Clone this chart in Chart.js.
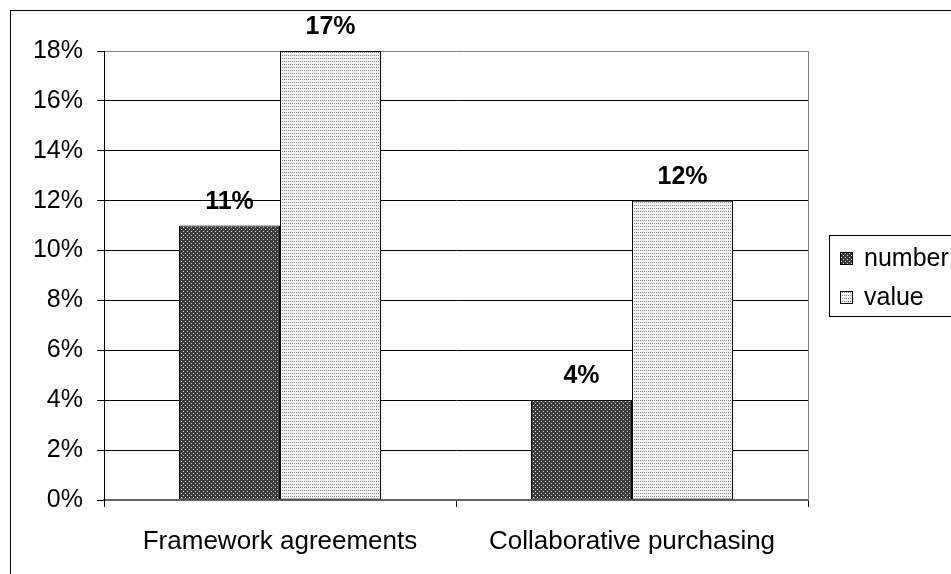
<!DOCTYPE html>
<html>
<head>
<meta charset="utf-8">
<script src="https://cdn.jsdelivr.net/npm/chart.js@4/dist/chart.umd.min.js"></script>
<style>
body { margin: 0; background: #fff; }
canvas { display: block; }
</style>
</head>
<body>
<canvas id="chart" width="951" height="574"></canvas>
<script>
// data (percent)
const categories = ['Framework agreements', 'Collaborative purchasing'];
const seriesNames = ['number', 'value'];
const numberShare = [11, 4];
const valueShare = [18, 12]; // first bar is drawn up to the 18% line in the picture
// printed labels above the bars
const numberLabels = ['11%', '4%'];
const valueLabels = ['17%', '12%'];
const yMin = 0;
const yMax = 18;
const yStep = 2;

const FONT = '"Liberation Sans", Arial, sans-serif';

const canvas = document.getElementById('chart');
const ctx = canvas.getContext('2d');

// little tiles to mimic the excel fill patterns
function makePattern(size, bg, dot, dots) {
  const tile = document.createElement('canvas');
  tile.width = size[0];
  tile.height = size[1];
  const t = tile.getContext('2d');
  t.fillStyle = bg;
  t.fillRect(0, 0, size[0], size[1]);
  t.fillStyle = dot;
  dots.forEach(d => t.fillRect(d[0], d[1], 1, 1));
  return ctx.createPattern(tile, 'repeat');
}

const darkFill = makePattern([4, 4], '#3a3a3a', '#e0e0e0', [[1, 1], [3, 3]]);
const lightFill = makePattern([2, 3], '#f2f2f2', '#8a8a8a', [[0, 1]]);

// outer frame + gray right edge of plot area
const framePlugin = {
  id: 'frame',
  beforeDraw(chart) {
    const c = chart.ctx;
    c.save();
    c.fillStyle = '#fff';
    c.fillRect(0, 0, chart.width, chart.height);
    c.strokeStyle = '#000';
    c.lineWidth = 1;
    c.strokeRect(10.5, 10.5, 1200, 1200);
    c.restore();
  },
  beforeDatasetsDraw(chart) {
    const a = chart.chartArea;
    const c = chart.ctx;
    c.save();
    c.strokeStyle = '#808080';
    c.lineWidth = 1;
    c.beginPath();
    c.moveTo(Math.round(a.right) + 0.5, a.top);
    c.lineTo(Math.round(a.right) + 0.5, a.bottom);
    c.stroke();
    c.restore();
  }
};

// bold value labels above every bar
const labelPlugin = {
  id: 'valueLabels',
  afterDatasetsDraw(chart) {
    const c = chart.ctx;
    c.save();
    c.font = 'bold 25px ' + FONT;
    c.fillStyle = '#000';
    c.textAlign = 'center';
    c.textBaseline = 'alphabetic';
    chart.data.datasets.forEach((ds, i) => {
      chart.getDatasetMeta(i).data.forEach((bar, j) => {
        c.fillText(ds.printed[j], bar.x, bar.y - 17);
      });
    });
    c.restore();
  }
};

// boxed legend on the right
const legendPlugin = {
  id: 'boxLegend',
  afterDraw(chart) {
    const c = chart.ctx;
    c.save();
    c.strokeStyle = '#000';
    c.lineWidth = 1;
    c.strokeRect(829.5, 235.5, 200, 81);
    c.font = '25px ' + FONT;
    c.textBaseline = 'middle';
    c.textAlign = 'left';
    chart.data.datasets.forEach((ds, i) => {
      const y = 252 + i * 39;
      c.fillStyle = ds.backgroundColor;
      c.fillRect(840, y, 12, 12);
      c.strokeStyle = '#000';
      c.strokeRect(840.5, y + 0.5, 12, 12);
      c.fillStyle = '#000';
      c.fillText(ds.label, 864, y + 7);
    });
    c.restore();
  }
};

new Chart(ctx, {
  type: 'bar',
  data: {
    labels: categories,
    datasets: [
      {
        label: seriesNames[0],
        data: numberShare,
        printed: numberLabels,
        backgroundColor: darkFill,
        borderColor: '#000',
        borderWidth: 1,
        borderSkipped: false
      },
      {
        label: seriesNames[1],
        data: valueShare,
        printed: valueLabels,
        backgroundColor: lightFill,
        borderColor: '#000',
        borderWidth: 1,
        borderSkipped: false
      }
    ]
  },
  options: {
    responsive: false,
    animation: false,
    devicePixelRatio: 1,
    layout: { padding: { top: 51, right: 143, bottom: 0, left: 0 } },
    datasets: { bar: { barPercentage: 1, categoryPercentage: 0.574 } },
    plugins: {
      legend: { display: false },
      tooltip: { enabled: false }
    },
    scales: {
      x: {
        offset: true,
        grid: {
          offset: true,
          drawOnChartArea: false,
          drawTicks: true,
          tickLength: 7,
          color: '#000'
        },
        border: { color: '#666', width: 2 },
        ticks: {
          color: '#000',
          padding: 19,
          font: { family: FONT, size: 26 },
          maxRotation: 0
        },
        afterFit(scale) { scale.height = 74; }
      },
      y: {
        min: yMin,
        max: yMax,
        grid: {
          color: c => (c.tick && c.tick.value === yMax) ? '#808080' : '#000',
          tickLength: 7,
          tickColor: '#000'
        },
        border: { color: '#000', width: 1 },
        ticks: {
          stepSize: yStep,
          color: '#000',
          padding: 14,
          font: { family: FONT, size: 25 },
          callback: v => v + '%'
        },
        afterFit(scale) { scale.width = 104; }
      }
    }
  },
  plugins: [framePlugin, labelPlugin, legendPlugin]
});
</script>
</body>
</html>
